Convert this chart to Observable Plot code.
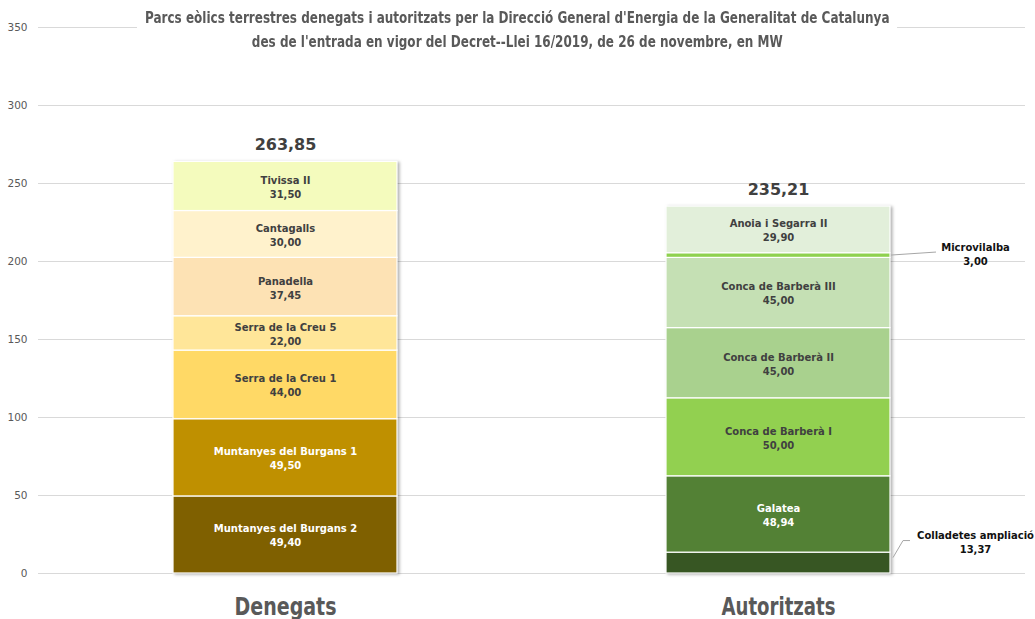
<!DOCTYPE html>
<html><head><meta charset="utf-8">
<script src="https://cdn.jsdelivr.net/npm/d3@7"></script>
<script src="https://cdn.jsdelivr.net/npm/@observablehq/plot@0.6"></script>
<style>
body{margin:0;background:#fff;}
#wrap{position:relative;width:1035px;height:619px;overflow:hidden;background:#fff;}
#title{position:absolute;top:6px;left:0;width:1035px;text-align:center;font-family:"Liberation Sans Narrow","Arial Narrow","DejaVu Sans Condensed",sans-serif;font-stretch:condensed;font-weight:bold;font-size:15px;color:#595959;line-height:24px;pointer-events:none;}
#title span{background:#fff;padding:0 9px;display:inline-block;transform:scaleX(0.89);transform-origin:center;}
</style></head>
<body>
<div id="wrap">
<div id="chart"></div>
<div id="title"><span>Parcs eòlics terrestres denegats i autoritzats per la Direcció General d'Energia de la Generalitat de Catalunya</span><br><span>des de l'entrada en vigor del Decret--Llei 16/2019, de 26 de novembre, en MW</span></div>
</div>
<script>
const categories = ["Denegats", "Autoritzats"];
const denegatsNames = ["Muntanyes del Burgans 2","Muntanyes del Burgans 1","Serra de la Creu 1","Serra de la Creu 5","Panadella","Cantagalls","Tivissa II"];
const denegatsValues = [49.40, 49.50, 44.00, 22.00, 37.45, 30.00, 31.50];
const autoritzatsNames = ["Colladetes ampliació","Galatea","Conca de Barberà I","Conca de Barberà II","Conca de Barberà III","Microvilalba","Anoia i Segarra II"];
const autoritzatsValues = [13.37, 48.94, 50.00, 45.00, 45.00, 3.00, 29.90];
const yTicks = [0, 50, 100, 150, 200, 250, 300, 350];
const calloutNames = ["Microvilalba", "Colladetes ampliació"];

// styles
const denegatsColors = ["#7f6000","#bf9000","#ffd966","#ffe699","#fde2b4","#fff2cc","#f4fbbd"];
const autoritzatsColors = ["#375623","#538135","#92d050","#a9d18e","#c5e0b4","#8fd14f","#e2efda"];
const calloutStyle = {
  "Microvilalba": {labelDy: -2, path: [[1, 0], [46, -3]]},
  "Colladetes ampliació": {labelDy: -22, path: [[3, -5], [13, -22], [20, -22]]}
};

function stack(cat, names, values, colors) {
  const ends = d3.cumsum(values);
  return names.map((n, i) => ({cat, name: n, value: values[i], y1: ends[i] - values[i], y2: ends[i], mid: ends[i] - values[i] / 2, color: colors[i]}));
}
const segs = [...stack(categories[0], denegatsNames, denegatsValues, denegatsColors),
              ...stack(categories[1], autoritzatsNames, autoritzatsValues, autoritzatsColors)];
const totals = [{cat: categories[0], total: d3.sum(denegatsValues)}, {cat: categories[1], total: d3.sum(autoritzatsValues)}];
const fmt = v => d3.format(".2f")(v).replace(".", ",");
const inner = segs.filter(d => !calloutNames.includes(d.name));
const outer = segs.filter(d => calloutNames.includes(d.name));
const textColor = c => d3.lab(c).l < 70 ? "#ffffff" : "#404040";

const leaders = (index, scales) => {
  const x = scales.x, y = scales.y;
  const bw = typeof x.bandwidth === "function" ? x.bandwidth() : x.bandwidth;
  const g = d3.create("svg:g").attr("fill", "none").attr("stroke", "#a6a6a6").attr("stroke-width", 1);
  outer.forEach(d => {
    const x0 = x(d.cat) + bw, y0 = y(d.mid);
    const pts = calloutStyle[d.name].path.map(([dx, dy]) => [x0 + dx, y0 + dy]);
    g.append("path").attr("d", d3.line()(pts));
  });
  return g.node();
};

const calloutMarks = outer.map(d => Plot.text([d], {
  x: "cat", y: "mid", dx: 197, dy: calloutStyle[d.name].labelDy,
  text: e => e.name + "\n" + fmt(e.value), fill: "#111111", fontSize: 10, fontWeight: "bold", lineHeight: 1.4
}));

const chart = Plot.plot({
  width: 1035, height: 619,
  marginLeft: 38, marginRight: 10, marginTop: 27, marginBottom: 46,
  style: {fontFamily: "'DejaVu Sans', sans-serif", background: "transparent", overflow: "visible"},
  x: {domain: categories, paddingInner: 0.546, paddingOuter: 0.273, label: null},
  y: {domain: [0, 350], label: null},
  color: {type: "identity"},
  marks: [
    Plot.gridY(yTicks, {stroke: "#d9d9d9", strokeOpacity: 1, strokeWidth: 1}),
    Plot.axisY(yTicks, {tickSize: 0, tickPadding: 11, fontSize: 10.5, fill: "#595959", label: null}),
    Plot.axisX({tickSize: 0, tickPadding: 24, fontSize: 25, fontWeight: "bold", fill: "#595959", fontFamily: "'Liberation Sans Narrow','Arial Narrow','DejaVu Sans Condensed',sans-serif", label: null}),
    Plot.rectY(segs, {x: "cat", y1: "y1", y2: "y2", fill: "color", stroke: "#ffffff", strokeWidth: 1.2}),
    Plot.text(inner, {x: "cat", y: "mid", text: d => d.name + "\n" + fmt(d.value), fill: d => textColor(d.color), fontSize: 10, fontWeight: "bold", lineHeight: 1.4}),
    Plot.text(totals, {x: "cat", y: "total", text: d => fmt(d.total), dy: -17, fontSize: 16, fontWeight: "bold", fill: "#404040"}),
    ...calloutMarks,
    leaders
  ]
});
document.getElementById("chart").appendChild(chart);
const rects = chart.querySelector('g[aria-label="rect"]');
if (rects) rects.style.filter = "drop-shadow(2px 1px 1.5px rgba(0,0,0,0.3))";
// condense the category labels to the reference's width
const targetWidths = {"Denegats": 102, "Autoritzats": 114};
const xAxis = chart.querySelector('g[aria-label="x-axis tick label"]');
if (xAxis) xAxis.querySelectorAll("text").forEach(t => {
  const w = t.getComputedTextLength();
  const tw = targetWidths[t.textContent] || w * 0.9;
  t.setAttribute("textLength", Math.min(w, tw).toFixed(1));
  t.setAttribute("lengthAdjust", "spacingAndGlyphs");
});
</script>
</body></html>
